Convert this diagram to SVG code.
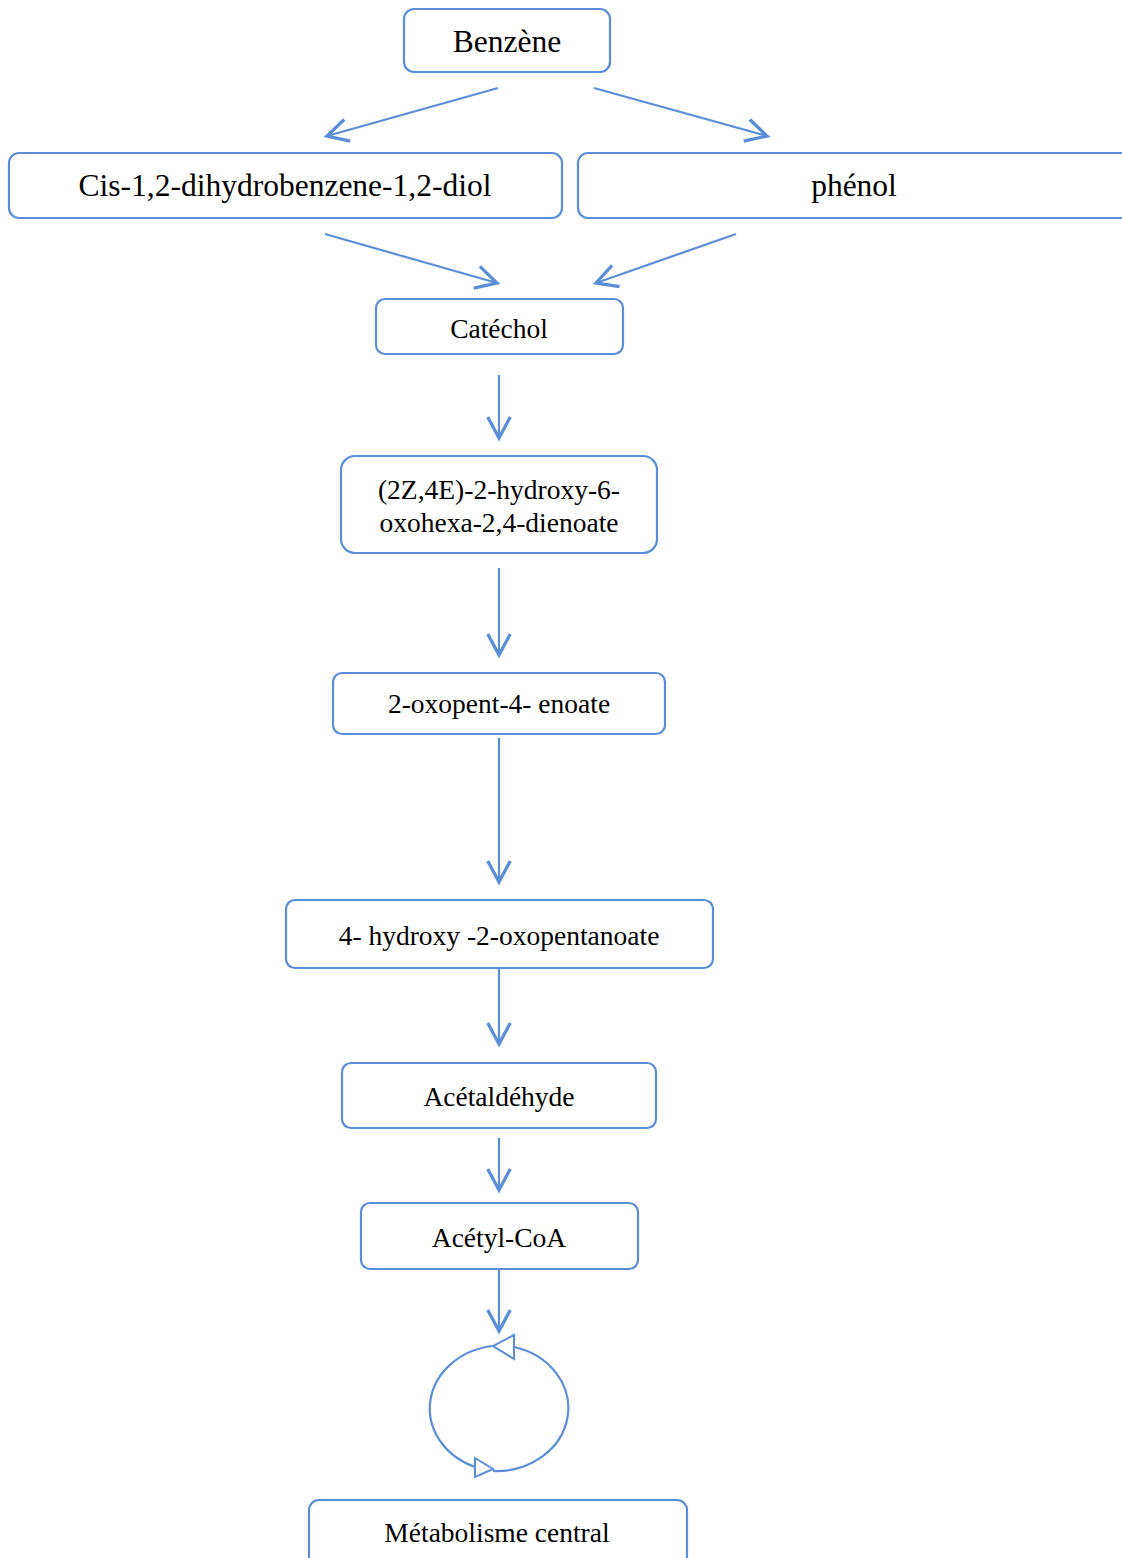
<svg xmlns="http://www.w3.org/2000/svg" width="1122" height="1558" viewBox="0 0 1122 1558">
  <style>
    .box { fill: #ffffff; stroke: #5B8ED6; stroke-width: 2.2; }
    .lbl { font-family: "Liberation Serif", "Times New Roman", serif; fill: #000000; text-anchor: middle; }
    .big { font-size: 31.5px; }
    .small { font-size: 27.5px; }
    .edge { fill: none; stroke: #5B8ED6; stroke-width: 2.2; }
    .arrow { marker-end: url(#open-arrow); }
    .tri { fill: #ffffff; stroke: #5B8ED6; stroke-width: 2; stroke-linejoin: miter; }
  </style>
  <defs>
    <marker id="open-arrow" markerUnits="userSpaceOnUse" markerWidth="30" markerHeight="30" viewBox="-16 -10 20 20" refX="0" refY="0" orient="auto" overflow="visible">
      <path d="M -14,-7.5 L 0,0 L -14,7.5" fill="none" stroke="#5B8ED6" stroke-width="2.2"/>
    </marker>
  </defs>

  <rect width="1122" height="1558" fill="#ffffff"/>

  <!-- connectors -->
  <g id="connectors">
    <line class="edge arrow" x1="498" y1="88" x2="327" y2="136"/>
    <line class="edge arrow" x1="594" y1="88" x2="767" y2="136"/>
    <line class="edge arrow" x1="325" y1="234" x2="497" y2="283"/>
    <line class="edge arrow" x1="736" y1="234" x2="596" y2="283"/>
    <line class="edge arrow" x1="499" y1="375" x2="499" y2="438"/>
    <line class="edge arrow" x1="499" y1="568" x2="499" y2="655"/>
    <line class="edge arrow" x1="499" y1="738" x2="499" y2="882"/>
    <line class="edge arrow" x1="499" y1="968" x2="499" y2="1044"/>
    <line class="edge arrow" x1="499" y1="1138" x2="499" y2="1190"/>
    <line class="edge arrow" x1="499" y1="1269" x2="499" y2="1331"/>
    <!-- cycle: two arcs, each ending in an open triangle -->
    <path class="edge" d="M 493,1471 A 72,63 0 0 0 514,1347"/>
    <path class="edge" d="M 493,1346 A 72,63 0 0 0 475,1467"/>
    <polygon class="tri" points="514,1335 514,1359 493,1346"/>
    <polygon class="tri" points="475,1458 475,1477 493,1469"/>
  </g>

  <g id="benzene">
    <rect class="box" x="404" y="9" width="206" height="63" rx="10"/>
    <text class="lbl big" x="507" y="52">Benzène</text>
  </g>
  <g id="dihydrodiol">
    <rect class="box" x="9" y="153" width="553" height="65" rx="10"/>
    <text class="lbl big" x="285" y="196">Cis-1,2-dihydrobenzene-1,2-diol</text>
  </g>
  <g id="phenol">
    <rect class="box" x="578" y="153" width="560" height="65" rx="10"/>
    <text class="lbl big" x="854" y="196">phénol</text>
  </g>
  <g id="catechol">
    <rect class="box" x="376" y="299" width="247" height="55" rx="9"/>
    <text class="lbl small" x="499" y="338">Catéchol</text>
  </g>
  <g id="hydroxy-oxohexadienoate">
    <rect class="box" x="341" y="456" width="316" height="97" rx="14"/>
    <text class="lbl small" x="499" y="499">(2Z,4E)-2-hydroxy-6-</text>
    <text class="lbl small" x="499" y="532">oxohexa-2,4-dienoate</text>
  </g>
  <g id="oxopentenoate">
    <rect class="box" x="333" y="673" width="332" height="61" rx="9"/>
    <text class="lbl small" x="499" y="713">2-oxopent-4- enoate</text>
  </g>
  <g id="hydroxy-oxopentanoate">
    <rect class="box" x="286" y="900" width="427" height="68" rx="9"/>
    <text class="lbl small" x="499" y="945">4- hydroxy -2-oxopentanoate</text>
  </g>
  <g id="acetaldehyde">
    <rect class="box" x="342" y="1063" width="314" height="65" rx="9"/>
    <text class="lbl small" x="499" y="1106">Acétaldéhyde</text>
  </g>
  <g id="acetyl-coa">
    <rect class="box" x="361" y="1203" width="277" height="66" rx="9"/>
    <text class="lbl small" x="499" y="1247">Acétyl-CoA</text>
  </g>
  <g id="central-metabolism">
    <rect class="box" x="309" y="1500" width="378" height="70" rx="10"/>
    <text class="lbl small" x="497" y="1542">Métabolisme central</text>
  </g>
</svg>
